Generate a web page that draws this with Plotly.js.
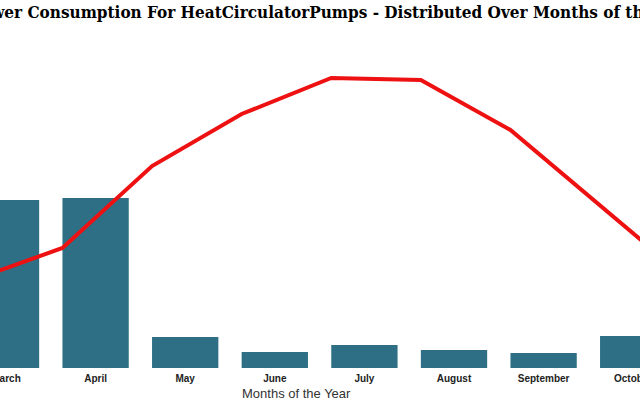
<!DOCTYPE html>
<html>
<head>
<meta charset="utf-8">
<script src="https://cdn.plot.ly/plotly-3.0.1.min.js"></script>
<style>html,body{margin:0;padding:0;background:#fff;}#chart{width:640px;height:400px;}</style>
</head>
<body>
<div id="chart"></div>
<script>
// Months visible in the (cropped) chart
const months = ["March", "April", "May", "June", "July", "August", "September", "October", "November"];
// Bar series: power consumption (estimated, relative units)
const consumption = [168, 170, 31, 16, 23, 18, 15, 32, 0];
// Line series (estimated, relative units)
const trend = [88, 120, 202, 254, 290, 288, 238, 162, 87];

const titleText = "Power Consumption For HeatCirculatorPumps - Distributed Over Months of the Year";
const xTitle = "Months of the Year";

const barTrace = {
  type: "bar",
  x: months,
  y: consumption,
  marker: {color: "#2e6f85"},
  xaxis: "x",
  yaxis: "y",
  hoverinfo: "x+y"
};
const lineTrace = {
  type: "scatter",
  mode: "lines",
  x: months,
  y: trend,
  line: {color: "#ee1111", width: 4},
  xaxis: "x2",
  yaxis: "y2",
  cliponaxis: true
};

const lo = 1.933 - 2, hi = lo + 640 / 89.6;
const shift = 0.37;

const layout = {
  width: 640,
  height: 400,
  margin: {l: 0, r: 0, t: 30, b: 32, pad: 0},
  paper_bgcolor: "#ffffff",
  plot_bgcolor: "#ffffff",
  showlegend: false,
  bargap: 0.26,
  title: {
    text: "<b>" + titleText + "</b>",
    x: 0.52,
    xanchor: "center",
    y: 0.97,
    yanchor: "middle",
    font: {family: "DejaVu Serif Condensed, DejaVu Serif", size: 17, color: "#000000"}
  },
  xaxis: {
    type: "category",
    range: [lo, hi],
    showgrid: false,
    zeroline: false,
    showline: false,
    ticks: "",
    ticklabelstandoff: 3,
    tickfont: {family: "Liberation Sans", size: 10, color: "#222222", weight: "bold"}
  },
  xaxis2: {
    type: "category",
    overlaying: "x",
    range: [lo + shift, hi + shift],
    visible: false
  },
  yaxis: {
    range: [0, 338],
    visible: false,
    fixedrange: true
  },
  yaxis2: {
    range: [0, 338],
    overlaying: "y",
    visible: false
  },
  annotations: [{
    text: xTitle,
    xref: "paper", yref: "paper",
    x: 296 / 640, y: -25 / 338,
    xanchor: "center", yanchor: "middle",
    showarrow: false,
    font: {family: "Liberation Sans", size: 13, color: "#333333"}
  }]
};

Plotly.newPlot("chart", [barTrace, lineTrace], layout, {displayModeBar: false, staticPlot: true});
</script>
</body>
</html>
